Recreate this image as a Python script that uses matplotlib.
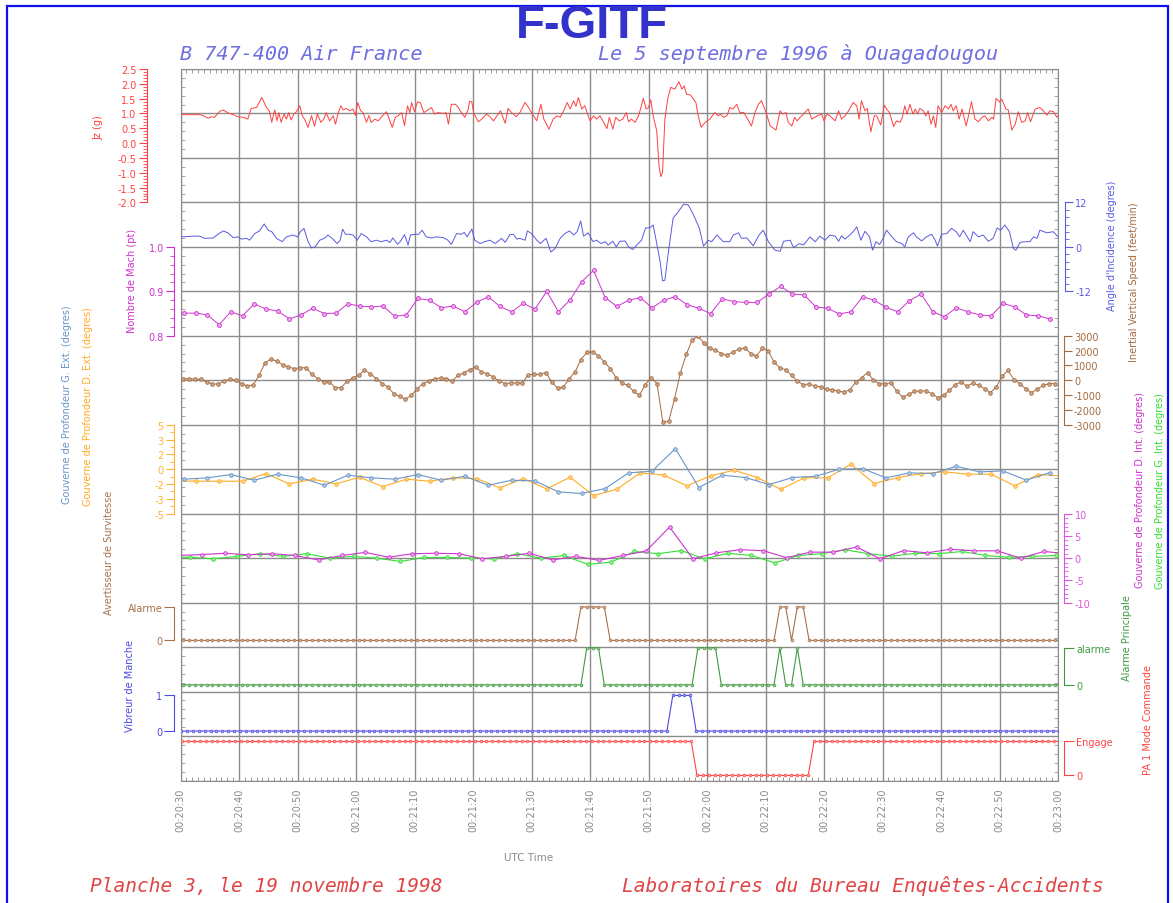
import numpy as np
import matplotlib
matplotlib.use("Agg")
import matplotlib.pyplot as plt
from matplotlib.patches import Rectangle
from matplotlib.ticker import MultipleLocator, FormatStrFormatter

plt.rcParams['font.family'] = 'DejaVu Sans'
plt.rcParams['axes.unicode_minus'] = False

# ---- data (seconds after 00:20:30 UTC) ----
time_ticks = list(range(0, 151, 10))
time_labels = ["00:20:30", "00:20:40", "00:20:50", "00:21:00", "00:21:10", "00:21:20",
               "00:21:30", "00:21:40", "00:21:50", "00:22:00", "00:22:10", "00:22:20",
               "00:22:30", "00:22:40", "00:22:50", "00:23:00"]

# Jz (g)
jz_t = [0, 3.3, 3.85, 4.7, 5.3, 5.8, 6.7, 7.3, 8.1, 9.0, 9.8, 10.7, 11.5, 12.1, 13.0, 13.9, 14.7, 15.2, 15.6, 16.1,
        16.5, 16.8, 17.2, 17.7, 18.1, 18.5, 18.9, 19.4, 19.8, 20.4, 20.8, 21.2, 21.8, 22.4, 22.9, 23.4, 24.0, 24.5, 24.9, 25.5,
        26.1, 26.5, 26.9, 27.4, 27.8, 28.3, 28.9, 29.5, 29.9, 30.3, 30.8, 31.2, 31.8, 32.2, 32.6, 33.2, 33.8, 34.3, 35.2, 35.8,
        36.2, 36.7, 37.2, 37.8, 38.3, 38.8, 39.2, 39.5, 40.0, 40.5, 41.0, 41.6, 42.3, 42.9, 43.4, 44.0, 44.9, 45.4, 45.8, 46.3,
        47.0, 47.5, 48.0, 48.6, 49.2, 49.4, 49.8,
        50.1, 50.9, 51.5, 52.3, 52.9, 53.5, 54.0, 54.7, 55.5, 56.0, 56.6, 57.4, 58.0, 58.9, 59.5, 60.0, 60.9, 61.6, 62.1, 63.0,
        63.7, 64.4, 64.9, 65.5, 66.1, 66.6, 67.2, 67.6, 68.0, 68.6, 69.1, 70.0, 70.6, 71.1, 71.7, 72.2, 72.9, 73.3, 73.9, 74.4,
        75.0, 75.6, 76.2, 76.6, 77.1, 77.7, 78.3, 78.7, 79.1, 79.6, 80.0, 80.4, 80.8, 81.4, 81.8, 82.1, 82.4, 82.8, 83.3, 83.8,
        84.5, 85.2, 85.7, 86.1, 86.5, 87.2, 88.1, 88.5, 89.0, 89.7, 90.5, 91.3, 91.9, 92.3, 92.8, 93.4, 93.9, 94.4, 95.1, 95.6,
        96.3, 96.9, 97.6, 98.2, 98.8,
        99.3, 100.1, 100.8, 101.8, 102.5, 102.9, 103.5, 103.9, 104.5, 105.0, 105.4, 105.9, 106.5, 107.3, 107.9, 108.8, 109.6, 110.0, 110.5, 111.0,
        111.9, 112.5, 113.0, 113.6, 114.2, 115.0, 115.6, 116.0, 116.4, 117.0, 117.4, 118.0, 118.6, 119.0, 119.7, 120.3, 120.7, 121.2, 121.9, 122.4,
        123.0, 123.4, 123.8, 124.2, 124.7, 125.2, 125.6, 126.0, 126.4, 127.0, 127.4, 127.8, 128.3, 128.7, 129.1, 129.5, 130.1, 130.7, 131.3, 131.7,
        132.1, 132.6, 133.1, 133.6, 134.3, 134.7, 135.2, 135.8, 136.4, 137.0, 137.5, 138.1, 138.7, 139.0, 139.4, 140.0, 140.4, 141.1, 141.5, 142.1,
        142.7, 143.2, 143.8, 144.4, 144.8, 145.3, 146.1, 146.9, 147.5, 148.1, 148.6, 149.2, 149.8, 150.0]
jz_g = [0.96, 0.96, 0.93, 0.84, 0.89, 0.87, 1.07, 1.12, 1.02, 0.96, 0.89, 0.87, 0.81, 1.17, 1.20, 1.54, 1.20, 1.09, 0.70, 1.12,
        0.75, 1.03, 0.70, 0.98, 0.81, 1.03, 0.78, 0.98, 1.06, 1.26, 0.93, 0.81, 0.53, 0.93, 0.57, 0.98, 0.70, 0.81, 1.03, 0.75,
        0.92, 0.64, 0.98, 1.26, 1.12, 1.17, 1.09, 1.15, 0.93, 1.37, 1.09, 1.03, 0.70, 0.93, 0.70, 0.81, 0.75, 0.87, 1.06, 0.75,
        0.53, 0.87, 0.92, 1.03, 0.59, 1.26, 1.03, 1.37, 1.06, 1.39, 1.37, 1.03, 1.12, 1.20, 0.98, 1.03, 1.00, 1.03, 0.64, 1.31,
        1.31, 1.20, 1.03, 0.87, 1.15, 1.41, 1.39,
        1.03, 0.72, 0.81, 0.98, 0.89, 0.75, 0.89, 1.09, 0.67, 1.17, 1.03, 0.89, 1.03, 1.37, 1.20, 1.03, 0.75, 1.31, 0.81, 0.47,
        0.81, 0.92, 0.87, 1.09, 1.37, 1.15, 1.43, 1.24, 1.54, 1.15, 1.26, 0.75, 0.92, 0.81, 0.92, 0.75, 0.49, 0.87, 0.47, 0.87,
        0.75, 0.81, 1.03, 0.72, 0.81, 0.70, 0.92, 1.20, 1.51, 1.15, 1.20, 1.46, 0.92, 0.42, -0.77, -1.13, -0.99, 0.81, 1.51, 1.88,
        1.82, 2.07, 1.82, 1.93, 1.65, 1.62, 1.37, 0.92, 0.53, 0.70, 0.81, 1.03, 0.92, 0.98, 0.87, 0.92, 1.20, 1.15, 1.31, 1.03,
        1.03, 0.83, 0.58, 1.03, 1.31,
        1.43, 1.03, 0.58, 0.44, 1.09, 0.98, 1.03, 0.70, 0.58, 0.87, 0.75, 0.87, 0.98, 1.15, 0.81, 0.92, 0.98, 0.75, 0.98, 0.92,
        0.75, 1.09, 0.81, 0.92, 1.09, 1.37, 1.26, 0.81, 1.43, 1.09, 1.17, 0.38, 0.92, 0.92, 0.61, 1.28, 1.15, 1.03, 0.56, 0.75,
        0.70, 0.87, 1.26, 0.98, 1.31, 0.98, 1.15, 0.98, 1.17, 1.09, 0.92, 1.09, 0.64, 0.92, 0.53, 1.26, 1.03, 1.26, 1.15, 1.31,
        1.09, 1.26, 0.81, 1.15, 0.58, 0.92, 1.40, 0.81, 0.72, 0.87, 0.92, 0.75, 0.87, 0.81, 1.51, 1.39, 1.48, 1.15, 1.12, 0.44,
        0.64, 1.06, 0.70, 0.75, 1.03, 0.72, 1.15, 1.20, 1.09, 0.94, 1.09, 1.06, 0.87, 0.92]

# Angle d'incidence (deg)
aoa_t = [0, 2.4, 3.3, 4.1, 5.6, 6.4, 7.3, 8.1, 9.0, 9.8, 10.4, 11.3, 11.8, 12.7, 13.5, 14.3, 15.0, 15.6, 16.4, 17.4,
         18.1, 19.2, 20.0, 20.5, 21.1, 21.8, 22.4, 23.0, 23.8, 24.6, 25.2, 25.9, 26.8, 27.3, 27.7, 28.2, 28.9, 29.5, 30.2, 30.9,
         31.8, 32.6, 33.5, 34.3, 35.2, 35.8, 36.3, 37.1, 37.6, 38.3, 38.9, 39.3, 40.1, 40.7, 41.3, 42.0, 42.9, 43.7, 44.9, 45.7,
         46.3, 47.2, 48.0, 48.5, 49.0, 49.8,
         50.3, 51.2, 52.0, 52.9, 53.8, 54.9, 55.5, 56.3, 56.9, 57.5, 58.0, 58.9, 59.3, 60.0, 60.9, 61.5, 62.5, 63.3, 64.0, 64.9,
         65.7, 66.5, 67.2, 67.8, 68.4, 68.9, 69.7, 70.5, 71.1, 71.9, 72.6, 73.1, 73.9, 74.5, 75.1, 76.0, 76.6, 77.3, 78.0, 78.8,
         79.5, 80.3, 80.8, 81.3, 82.0, 82.4, 82.8, 83.4, 84.2, 85.1, 86.0, 86.8, 87.7, 88.7, 89.4, 90.2, 90.8, 91.7, 92.8, 93.9,
         94.5, 95.4, 95.9, 96.8, 97.9, 98.9,
         99.6, 100.5, 101.6, 102.5, 103.1, 104.2, 104.8, 105.8, 106.5, 107.6, 108.5, 109.3, 110.2, 111.0, 111.9, 112.5, 113.0, 113.6, 114.4, 115.0,
         115.6, 116.3, 117.0, 117.8, 118.3, 118.9, 119.5, 120.1, 120.7, 121.6, 122.4, 123.3, 123.8, 124.4, 125.3, 125.8, 126.7, 127.5, 128.4, 129.0,
         129.4, 130.1, 131.0, 131.8, 132.6, 133.2, 133.8, 134.5, 135.0, 135.5, 136.4, 137.2, 138.1, 138.9, 139.6, 140.2, 140.9, 141.7, 142.4, 142.8,
         143.5, 144.4, 145.2, 145.8, 146.4, 146.9, 148.1, 149.2, 150.0]
aoa_deg = [2.7, 2.9, 2.9, 2.3, 2.4, 3.4, 4.3, 3.8, 2.5, 2.7, 2.1, 2.3, 1.8, 3.6, 4.3, 6.2, 4.5, 4.1, 2.3, 1.4,
           2.7, 3.2, 2.7, 4.1, 5.0, 1.4, -0.3, 0.0, 1.8, 2.3, 3.2, 2.3, 0.9, 1.8, 4.8, 3.4, 3.4, 3.2, 1.8, 3.6,
           2.7, 1.4, 1.8, 1.4, 1.8, 1.2, 2.4, 0.7, 1.5, 3.3, 0.5, 3.2, 3.4, 3.4, 4.5, 2.7, 2.4, 2.7, 2.5, 1.8,
           0.7, 3.6, 3.4, 3.9, 2.7, 4.8,
           1.8, 0.9, 1.4, 1.8, 0.9, 2.3, 1.2, 3.3, 3.4, 2.1, 2.3, 1.8, 4.3, 3.6, 1.8, 0.9, 2.3, -1.4, -0.5, 2.3,
           3.6, 4.3, 3.2, 4.1, 7.0, 2.9, 3.8, 1.4, 1.8, 0.9, 1.4, 0.5, 1.5, 0.0, 1.5, 1.6, 0.0, -0.7, 0.5, 1.8,
           5.1, 5.2, 5.9, 1.8, -4.1, -9.2, -9.0, -1.4, 7.7, 9.5, 11.5, 11.3, 8.6, 5.0, 0.2, 1.8, 1.4, 3.2, 1.4, 1.4,
           3.2, 3.8, 2.3, 2.4, 0.3, 3.2,
           4.5, 1.4, -0.9, -1.2, 1.5, 1.8, -0.2, 0.9, 0.5, 2.7, 1.4, 2.9, 1.8, 3.2, 2.9, 1.5, 3.0, 2.1, 3.2, 4.1,
           5.4, 1.8, 4.2, 2.7, -0.9, 1.4, 0.6, 2.3, 4.5, 2.7, 1.4, 0.9, 0.0, 2.7, 3.8, 2.7, 1.6, 2.7, 3.4, 1.8,
           0.2, 3.4, 3.6, 5.0, 4.1, 2.7, 4.5, 2.7, 1.4, 4.1, 2.7, 3.2, 1.5, 2.3, 5.1, 4.5, 5.9, 4.1, -0.5, -0.9,
           1.2, 1.4, 1.4, 2.7, 2.3, 4.5, 3.8, 4.1, 2.7]

# Nombre de Mach, one sample every 2 s
mach_t = np.arange(0.6, 150, 2.0)
mach = [0.851, 0.851, 0.847, 0.825, 0.854, 0.845, 0.872, 0.860, 0.856, 0.838,
        0.847, 0.862, 0.850, 0.851, 0.872, 0.867, 0.865, 0.867, 0.844, 0.847,
        0.884, 0.880, 0.863, 0.867, 0.854, 0.875, 0.888, 0.866, 0.854, 0.873,
        0.860, 0.900, 0.854, 0.881, 0.922, 0.947, 0.886, 0.866, 0.880, 0.886,
        0.863, 0.880, 0.888, 0.870, 0.862, 0.850, 0.883, 0.877, 0.875, 0.875,
        0.894, 0.911, 0.894, 0.892, 0.865, 0.862, 0.849, 0.854, 0.888, 0.880,
        0.864, 0.854, 0.879, 0.894, 0.854, 0.843, 0.863, 0.854, 0.847, 0.845,
        0.873, 0.865, 0.847, 0.845, 0.838]

# Inertial vertical speed (ft/min), one sample per second
ivs_t = np.arange(0.45, 150, 1.0)
ivs = [110, 110, 70, 70, -110, -250, -250, -45, 70, 0,
       -225, -405, -290, 340, 1175, 1445, 1285, 1060, 900, 790,
       835, 855, 405, 110, -110, -110, -500, -500, -70, 160,
       340, 675, 450, 110, -225, -450, -900, -1080, -1285, -1015,
       -565, -225, -45, 110, 160, 110, -45, 340, 500, 720,
       900, 565, 450, 225, -45, -225, -180, -180, -180, 385,
       405, 405, 520, -110, -520, -450, 110, 565, 1400, 1875,
       1920, 1645, 1240, 790, 180, -180, -340, -745, -1015, -290,
       180, -225, -2820, -2775, -1240, 500, 1740, 2710, 2980, 2530,
       2145, 2030, 1805, 1690, 1920, 2100, 2190, 1805, 1645, 2145,
       1985, 1240, 835, 720, 340, -45, -290, -250, -385, -450,
       -610, -630, -745, -790, -630, -110, 180, 520, 0, -250,
       -225, -180, -745, -1130, -950, -745, -720, -720, -900, -1175,
       -1015, -675, -290, -110, -405, -180, -340, -565, -835, -450,
       270, 675, 45, -225, -565, -835, -610, -340, -225, -225]

# Gouverne de profondeur externe (deg)
ext_g_t = np.arange(0.6, 150, 4.0)
ext_g = [-1.12, -0.97, -0.60, -1.24, -0.56, -0.97, -1.80, -0.67, -0.97, -1.12,
         -0.60, -1.24, -0.79, -1.80, -1.24, -1.31, -2.55, -2.73, -2.17, -0.41,
         -0.22, 2.32, -2.06, -0.67, -0.94, -1.72, -0.94, -0.79, 0.00, 0.07,
         -0.97, -0.41, -0.49, 0.34, -0.30, -0.19, -1.24, -0.37]
ext_d_t = np.arange(-1.4, 152, 4.0)
ext_d = [-1.30, -1.35, -1.35, -1.35, -0.49, -1.65, -1.12, -1.65, -0.90, -1.95,
         -1.12, -1.35, -0.97, -1.05, -2.10, -1.05, -2.21, -0.90, -2.96, -2.25,
         -0.41, -0.67, -1.87, -0.75, -0.11, -0.94, -2.25, -0.97, -0.97, 0.56,
         -1.61, -0.94, -0.49, -0.30, -0.56, -0.56, -1.87, -0.60, -0.75]
ext_ticks = np.linspace(-5, 5, 7)
ext_ticklabels = ["-5", "-3", "-2", "0", "2", "3", "5"]

# Gouverne de profondeur interne (deg)
int_d_t = np.arange(-0.4, 152, 4.0)
int_d = [0.6, 0.8, 1.1, 0.75, 1.0, 0.6, -0.4, 0.6, 1.3, 0.2,
         1.0, 1.1, 1.0, -0.15, 0.4, 1.1, -0.4, 0.4, -0.5, 0.6,
         1.6, 7.0, -0.15, 1.2, 1.9, 1.7, 0.1, 1.35, 1.35, 2.5,
         -0.15, 1.7, 1.2, 2.0, 1.65, 1.65, 0.0, 1.5, 1.0]
int_g_t = np.arange(-2.4, 150, 4.0)
int_g = [0.2, 0.2, -0.15, 0.4, 1.0, 0.4, 1.0, 0.0, 0.4, 0.0,
         -0.75, 0.15, 0.15, 0.0, -0.15, 1.0, 0.0, 0.6, -1.4, -0.9,
         1.5, 1.0, 1.7, -0.15, 1.1, 0.6, -1.05, 0.6, 1.0, 1.9,
         1.0, 0.45, 1.1, 1.0, 1.5, 0.6, 0.2, 0.4, 0.6]

# discrete parameters, one sample per second
overspeed_t = np.arange(-1, 151) + 0.45
overspeed = [0] * 69 + [1] * 5 + [0] * 29 + [1] * 2 + [0] + [1] * 2 + [0] * 44
master_t = np.arange(-1, 151) + 0.45
master = [0] * 70 + [1] * 3 + [0] * 16 + [1] * 4 + [0] * 10 + [1] + [0] * 2 + [1] + [0] * 45
shaker_t = np.arange(-1, 151) + 0.15
shaker = [0] * 85 + [1] * 4 + [0] * 63
ap_t = np.arange(-1, 151) + 0.3
ap = [1] * 89 + [0] * 20 + [1] * 43

# ---- figure ----
W_PX, H_PX = 1173, 904
fig = plt.figure(figsize=(W_PX / 100, H_PX / 100), dpi=100)


def fx(px):
    return px / W_PX


def fy(py):
    return 1 - py / H_PX


L, R = fx(180.5), fx(1058)
B, T = fy(781.5), fy(70)
UNIT = (T - B) / 16

fig.patches.append(Rectangle((fx(7), -0.02), fx(1168) - fx(7), fy(7) + 0.02,
                             transform=fig.transFigure, fill=False, ec='#1010ee', lw=1.6))

# main grid axes
ax = fig.add_axes([L, B, R - L, T - B])
ax.set_xlim(0, 150)
ax.set_ylim(0, 16)
ax.set_xticks(time_ticks)
ax.set_xticklabels(time_labels, rotation=90)
ax.set_yticks(np.arange(0, 17, 1))
ax.set_yticklabels([])
ax.xaxis.set_minor_locator(MultipleLocator(1))
ax.yaxis.set_minor_locator(MultipleLocator(0.2))
ax.tick_params(axis='x', which='major', length=0, pad=5, labelsize=7, labelcolor='#8a8a8a')
ax.tick_params(axis='x', which='minor', direction='in', length=3, top=True, bottom=True, color='#8a8a8a')
ax.tick_params(axis='y', which='major', length=0)
ax.tick_params(axis='y', which='minor', direction='in', length=3, left=True, right=True, color='#9a9a9a')
ax.grid(True, which='major', color='#8c8c8c', lw=1)
for s in ax.spines.values():
    s.set_color('#8c8c8c')


def band(u0, u1, ylim, side, color, offset, major=6, minor=3):
    a = fig.add_axes([L, B + u0 * UNIT, R - L, (u1 - u0) * UNIT], facecolor='none')
    a.set_xlim(0, 150)
    a.set_ylim(*ylim)
    a.xaxis.set_visible(False)
    for k in ('left', 'right', 'top', 'bottom'):
        a.spines[k].set_visible(k == side)
    a.spines[side].set_position(('outward', offset))
    a.spines[side].set_color(color)
    a.yaxis.set_ticks_position(side)
    a.tick_params(axis='y', which='both', colors=color, labelsize=7, direction='out', pad=1.5)
    a.tick_params(axis='y', which='major', length=major)
    a.tick_params(axis='y', which='minor', length=minor)
    return a


# Jz
c_jz = '#ff4040'
a = band(13, 16, (-2, 2.5), 'left', c_jz, 24.3)
a.set_yticks(np.arange(-2, 2.51, 0.5))
a.yaxis.set_major_formatter(FormatStrFormatter('%.1f'))
a.yaxis.set_minor_locator(MultipleLocator(0.1))
a.spines['left'].set_bounds(-2, 2.5)
a.plot(jz_t, jz_g, color=c_jz, lw=0.7)

# angle of attack
c_aoa = '#5a5ae0'
a = band(11, 13, (-12, 12), 'right', c_aoa, 5)
a.set_yticks([-12, 0, 12])
a.yaxis.set_minor_locator(MultipleLocator(2))
a.spines['right'].set_bounds(-12, 12)
a.plot(aoa_t, aoa_deg, color=c_aoa, lw=0.7)

# Mach
c_mach = '#cc33cc'
a = band(10, 12, (0.8, 1.0), 'left', c_mach, 4.5)
a.set_yticks([0.8, 0.9, 1.0])
a.set_yticklabels(["0.8", "0.9", "1.0"])
a.yaxis.set_minor_locator(MultipleLocator(0.02))
a.spines['left'].set_bounds(0.8, 1.0)
a.plot(mach_t, mach, color=c_mach, lw=0.7, marker='o', ms=2.8, mfc='#eeaaee', mec=c_mach, mew=0.6)

# vertical speed
c_ivs = '#a46a40'
a = band(8, 10, (-3000, 3000), 'right', c_ivs, 4)
a.set_yticks(np.arange(-3000, 3001, 1000))
a.spines['right'].set_bounds(-3000, 3000)
a.plot(ivs_t, ivs, color=c_ivs, lw=0.7, marker='o', ms=2.6, mfc='#cfa888', mec=c_ivs, mew=0.6)

# external elevators
c_extg, c_extd = '#6a96c8', '#ffaa22'
a = band(6, 8, (-5, 5), 'left', '#ffb030', 4.5)
a.set_yticks(ext_ticks)
a.set_yticklabels(ext_ticklabels)
a.yaxis.set_minor_locator(MultipleLocator(5 / 6))
a.spines['left'].set_bounds(-5, 5)
a.plot(ext_d_t, ext_d, color=c_extd, lw=0.8, marker='o', ms=2.6, mfc='#ffd488', mec=c_extd, mew=0.6)
a.plot(ext_g_t, ext_g, color=c_extg, lw=0.8, marker='o', ms=2.6, mfc='#b4cbe4', mec=c_extg, mew=0.6)

# internal elevators
c_intd, c_intg = '#cc33cc', '#33dd33'
a = band(4, 6, (-10, 10), 'right', '#dd55dd', 4.5)
a.set_yticks([-10, -5, 0, 5, 10])
a.yaxis.set_minor_locator(MultipleLocator(1))
a.spines['right'].set_bounds(-10, 10)
a.plot(int_g_t, int_g, color=c_intg, lw=0.8, marker='o', ms=2.6, mfc='#99ee99', mec=c_intg, mew=0.6)
a.plot(int_d_t, int_d, color=c_intd, lw=0.8, marker='o', ms=2.6, mfc='#eeaaee', mec=c_intd, mew=0.6)

# overspeed warning
c_ovs = '#a8714a'
a = band(3, 4, (-0.2, 1.13), 'left', c_ovs, 4.5, major=7)
a.set_yticks([0, 1])
a.set_yticklabels(["0", "Alarme"])
a.spines['left'].set_bounds(0, 1)
a.plot(overspeed_t, overspeed, color=c_ovs, lw=0.8, marker='o', ms=2.0, mfc='#d8b49a', mec=c_ovs, mew=0.5)

# master warning
c_mw = '#3f9a3f'
a = band(2, 3, (-0.18, 1.02), 'right', c_mw, 4.5, major=7)
a.set_yticks([0, 1])
a.set_yticklabels(["0", "alarme"])
a.spines['right'].set_bounds(0, 1)
a.plot(master_t, master, color=c_mw, lw=0.8, marker='o', ms=2.0, mfc='#9fd09f', mec=c_mw, mew=0.5)

# stick shaker
c_sh = '#4a4ae0'
a = band(1, 2, (-0.14, 1.11), 'left', c_sh, 4.5, major=7)
a.set_yticks([0, 1])
a.set_yticklabels(["0", "1"])
a.spines['left'].set_bounds(0, 1)
a.plot(shaker_t, shaker, color=c_sh, lw=0.8, marker='o', ms=2.0, mfc='#a8a8f0', mec=c_sh, mew=0.5)

# autopilot
c_ap = '#ff4444'
a = band(0, 1, (-0.15, 1.16), 'right', c_ap, 4.5, major=7)
a.set_yticks([0, 1])
a.set_yticklabels(["0", "Engage"])
a.spines['right'].set_bounds(0, 1)
a.plot(ap_t, ap, color=c_ap, lw=0.8, marker='o', ms=2.0, mfc='#ffaaaa', mec=c_ap, mew=0.5)

# side labels
side_labels = [
    ("Jz (g)", 98, 128, c_jz),
    ("Angle d'Incidence (degres)", 1112, 246, c_aoa),
    ("Inertial Vertical Speed (feet/min)", 1134, 282, c_ivs),
    ("Nombre de Mach (pt)", 132, 281, c_mach),
    ("Gouverne de Profondeur G. Ext. (degres)", 67, 405, c_extg),
    ("Gouverne de Profondeur D. Ext. (degres)", 88, 407, c_extd),
    ("Avertisseur de Survitesse", 109, 553, c_ovs),
    ("Vibreur de Manche", 130, 686, c_sh),
    ("Gouverne de Profondeur D. Int. (degres)", 1140, 490, c_intd),
    ("Gouverne de Profondeur G. Int. (degres)", 1160, 491, c_intg),
    ("Alarme Principale", 1127, 638, c_mw),
    ("PA 1 Mode Commande", 1148, 720, c_ap),
]
for txt, x, y, col in side_labels:
    fig.text(fx(x), fy(y), txt, rotation=90, ha='center', va='center', fontsize=7, color=col)

fig.text(fx(529), fy(858), "UTC Time", ha='center', va='center', fontsize=7.5, color='#8a8a8a')

# titles
fig.text(fx(592), fy(38), "F-GITF", ha='center', va='baseline', fontsize=34,
         fontweight='bold', family='Liberation Sans', color='#3333cc')
fig.text(fx(180), fy(60), "B 747-400 Air France", ha='left', va='baseline', fontsize=14.5,
         family='DejaVu Sans Mono', style='oblique', color='#6e6ee0')
fig.text(fx(598), fy(60), "Le 5 septembre 1996 à Ouagadougou", ha='left', va='baseline', fontsize=14.5,
         family='DejaVu Sans Mono', style='oblique', color='#6e6ee0')
fig.text(fx(90), fy(892), "Planche 3, le 19 novembre 1998", ha='left', va='baseline', fontsize=14,
         family='DejaVu Sans Mono', style='oblique', color='#e04444')
fig.text(fx(622), fy(892), "Laboratoires du Bureau Enquêtes-Accidents", ha='left', va='baseline', fontsize=14,
         family='DejaVu Sans Mono', style='oblique', color='#e04444')

fig.savefig("out.png", dpi=100)
